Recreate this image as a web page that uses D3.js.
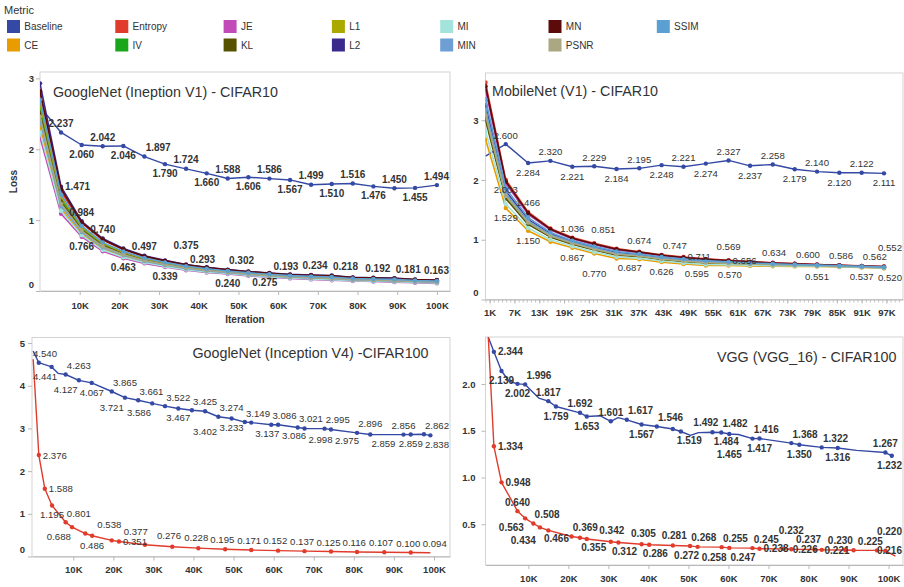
<!DOCTYPE html>
<html>
<head>
<meta charset="utf-8">
<script src="https://cdn.jsdelivr.net/npm/d3@7"></script>
<style>
  body { margin: 0; background: #fff; }
</style>
</head>
<body>
<script>
'use strict';

// ---- legend / metrics ----
const metrics = ["Baseline", "CE", "Entropy", "IV", "JE", "KL", "L1", "L2", "MI", "MIN", "MN", "PSNR", "SSIM"];

// ---- GoogleNet (Inception V1) - CIFAR10 ----
const g1XTicks = [10000, 20000, 30000, 40000, 50000, 60000, 70000, 80000, 90000, 100000];
const g1YTicks = [0, 1, 2, 3];
const g1Iter = [0, 5300, 10500, 15800, 21000, 26300, 31500, 36800, 42000, 47300, 52500, 57800, 63000, 68300, 73500, 78800, 84000, 89300, 94500, 100000];
const g1Baseline = [2.60, 2.237, 2.060, 2.042, 2.046, 1.897, 1.790, 1.724, 1.660, 1.588, 1.606, 1.586, 1.567, 1.499, 1.510, 1.516, 1.476, 1.450, 1.455, 1.494];
const g1L2 = [2.93, 1.471, 0.984, 0.740, 0.600, 0.497, 0.432, 0.375, 0.336, 0.302, 0.275, 0.255, 0.234, 0.226, 0.218, 0.192, 0.186, 0.181, 0.163, 0.155];
const g1MN = [2.82, 1.440, 0.968, 0.727, 0.590, 0.489, 0.425, 0.369, 0.331, 0.298, 0.271, 0.251, 0.230, 0.222, 0.213, 0.189, 0.183, 0.177, 0.160, 0.152];
const g1Entropy = [2.78, 1.400, 0.958, 0.718, 0.584, 0.484, 0.421, 0.366, 0.327, 0.295, 0.268, 0.248, 0.227, 0.219, 0.210, 0.186, 0.180, 0.174, 0.157, 0.149];
const g1SSIM = [2.70, 1.360, 0.919, 0.686, 0.559, 0.465, 0.404, 0.351, 0.314, 0.283, 0.257, 0.236, 0.217, 0.207, 0.198, 0.177, 0.170, 0.164, 0.149, 0.141];
const g1L1 = [2.64, 1.330, 0.901, 0.672, 0.548, 0.456, 0.397, 0.344, 0.308, 0.278, 0.252, 0.231, 0.213, 0.202, 0.193, 0.173, 0.166, 0.160, 0.146, 0.137];
const g1IV = [2.58, 1.300, 0.886, 0.659, 0.538, 0.449, 0.390, 0.338, 0.303, 0.274, 0.248, 0.227, 0.209, 0.198, 0.188, 0.170, 0.162, 0.156, 0.142, 0.134];
const g1KL = [2.51, 1.260, 0.864, 0.641, 0.525, 0.438, 0.381, 0.330, 0.295, 0.268, 0.241, 0.221, 0.203, 0.192, 0.182, 0.165, 0.157, 0.150, 0.138, 0.129];
const g1PSNR = [2.46, 1.230, 0.849, 0.628, 0.515, 0.431, 0.374, 0.324, 0.290, 0.264, 0.237, 0.217, 0.199, 0.188, 0.177, 0.161, 0.153, 0.146, 0.134, 0.126];
const g1MIN = [2.40, 1.200, 0.831, 0.614, 0.504, 0.422, 0.367, 0.318, 0.284, 0.259, 0.232, 0.212, 0.195, 0.183, 0.172, 0.157, 0.149, 0.142, 0.131, 0.122];
const g1CE = [2.31, 1.160, 0.805, 0.592, 0.488, 0.409, 0.356, 0.308, 0.275, 0.251, 0.225, 0.204, 0.188, 0.175, 0.164, 0.151, 0.143, 0.135, 0.125, 0.116];
const g1MI = [2.24, 1.130, 0.788, 0.578, 0.477, 0.401, 0.348, 0.301, 0.269, 0.246, 0.220, 0.199, 0.184, 0.170, 0.159, 0.147, 0.138, 0.131, 0.122, 0.113];
const g1JE = [2.17, 1.090, 0.766, 0.560, 0.463, 0.390, 0.339, 0.293, 0.262, 0.240, 0.214, 0.193, 0.178, 0.164, 0.152, 0.142, 0.133, 0.125, 0.117, 0.108];
const g1BaselineLabelIdx = [1, 2, 3, 4, 5, 6, 7, 8, 9, 10, 11, 12, 13, 14, 15, 16, 17, 18, 19];
const g1L2LabelIdx = [1, 2, 3, 5, 7, 9, 10, 12, 14, 15, 17, 18];
const g1JELabelIdx = [2, 4, 6, 7, 9, 11];

// ---- MobileNet (V1) - CIFAR10 ----
const mXTicks = [1000, 7000, 13000, 19000, 25000, 31000, 37000, 43000, 49000, 55000, 61000, 67000, 73000, 79000, 85000, 91000, 97000];
const mYTicks = [0, 1, 2, 3];
const mIter = [0, 4900, 10300, 15700, 21000, 26300, 31700, 37200, 42600, 47900, 53300, 58800, 64000, 69500, 74800, 80200, 85600, 91000, 96400];
const mBaseline = [2.40, 2.600, 2.284, 2.320, 2.221, 2.229, 2.184, 2.195, 2.248, 2.221, 2.274, 2.327, 2.237, 2.258, 2.179, 2.140, 2.120, 2.122, 2.111];
const mEntropy = [3.63, 2.003, 1.466, 1.190, 1.036, 0.940, 0.851, 0.800, 0.747, 0.711, 0.680, 0.656, 0.634, 0.615, 0.600, 0.586, 0.574, 0.562, 0.552];
const mMN = [3.57, 1.975, 1.447, 1.177, 1.026, 0.930, 0.841, 0.792, 0.740, 0.704, 0.673, 0.651, 0.630, 0.612, 0.597, 0.584, 0.572, 0.560, 0.550];
const mJE = [3.51, 1.941, 1.425, 1.161, 1.014, 0.918, 0.830, 0.784, 0.731, 0.696, 0.666, 0.645, 0.625, 0.607, 0.594, 0.581, 0.570, 0.559, 0.548];
const mSSIM = [3.35, 1.861, 1.371, 1.123, 0.985, 0.889, 0.802, 0.762, 0.711, 0.676, 0.647, 0.630, 0.612, 0.598, 0.586, 0.575, 0.565, 0.554, 0.542];
const mL2 = [3.25, 1.813, 1.340, 1.101, 0.968, 0.872, 0.785, 0.750, 0.699, 0.665, 0.636, 0.621, 0.605, 0.592, 0.582, 0.572, 0.562, 0.552, 0.539];
const mMIN = [3.18, 1.780, 1.317, 1.085, 0.957, 0.860, 0.774, 0.741, 0.690, 0.656, 0.628, 0.615, 0.600, 0.588, 0.578, 0.570, 0.560, 0.550, 0.537];
const mL1 = [3.14, 1.757, 1.302, 1.074, 0.948, 0.852, 0.766, 0.734, 0.684, 0.651, 0.623, 0.611, 0.597, 0.585, 0.576, 0.568, 0.558, 0.549, 0.535];
const mPSNR = [3.09, 1.733, 1.286, 1.063, 0.940, 0.843, 0.758, 0.728, 0.678, 0.645, 0.617, 0.606, 0.593, 0.582, 0.574, 0.566, 0.557, 0.548, 0.534];
const mIV = [3.06, 1.719, 1.276, 1.056, 0.935, 0.838, 0.753, 0.724, 0.674, 0.641, 0.614, 0.604, 0.591, 0.580, 0.572, 0.565, 0.556, 0.547, 0.533];
const mKL = [3.00, 1.690, 1.257, 1.043, 0.924, 0.828, 0.743, 0.717, 0.667, 0.634, 0.607, 0.599, 0.586, 0.577, 0.570, 0.563, 0.554, 0.545, 0.531];
const mMI = [2.82, 1.600, 1.197, 1.000, 0.892, 0.795, 0.712, 0.693, 0.644, 0.612, 0.586, 0.582, 0.573, 0.566, 0.561, 0.556, 0.548, 0.541, 0.525];
const mCE = [2.68, 1.529, 1.150, 0.967, 0.867, 0.770, 0.687, 0.674, 0.626, 0.595, 0.570, 0.569, 0.562, 0.557, 0.554, 0.551, 0.544, 0.537, 0.520];
const mBaselineLabelIdx = [1, 2, 3, 4, 5, 6, 7, 8, 9, 10, 11, 12, 13, 14, 15, 16, 17, 18];
const mEntropyLabelIdx = [1, 2, 4, 6, 8, 9, 11, 12, 14, 15, 17, 18];
const mCELabelIdx = [1, 2, 4, 5, 6, 7, 8, 9, 10, 11, 15, 17, 18];

// ---- GoogleNet (Inception V4) - CIFAR100 ----
const g4XTicks = [10000, 20000, 30000, 40000, 50000, 60000, 70000, 80000, 90000, 100000];
const g4YTicks = [0, 1, 2, 3, 4, 5];
const g4BaselineIter = [0, 1400, 4600, 6200, 8100, 11400, 14600, 19600, 22900, 26200, 29700, 32900, 36200, 39600, 42900, 46200, 49500, 52800, 54400, 59400, 61100, 66000, 67700, 72700, 74300, 80800, 84100, 92400, 94200, 97500, 99100];
const g4Baseline = [4.81, 4.540, 4.441, 4.290, 4.263, 4.127, 4.067, 3.865, 3.721, 3.661, 3.586, 3.522, 3.467, 3.425, 3.402, 3.274, 3.233, 3.149, 3.137, 3.086, 3.086, 3.021, 2.998, 2.995, 2.975, 2.896, 2.859, 2.856, 2.859, 2.862, 2.838];
const g4BaselineBare = [0, 3];
const g4EntropyIter = [0, 1400, 2900, 4700, 8100, 9700, 13000, 14700, 19600, 21400, 27900, 34700, 41200, 47900, 54400, 61100, 67700, 74300, 80800, 87600, 94200, 99100];
const g4Entropy = [4.62, 2.376, 1.588, 1.195, 0.801, 0.688, 0.538, 0.486, 0.377, 0.351, 0.276, 0.228, 0.195, 0.171, 0.152, 0.137, 0.125, 0.116, 0.107, 0.100, 0.094, 0.088];
const g4EntropyBare = [0, 21];

// ---- VGG (VGG_16) - CIFAR100 ----
const vggXTicks = [10000, 20000, 30000, 40000, 50000, 60000, 70000, 80000, 90000, 100000];
const vggYTicks = [0.5, 1.0, 1.5, 2.0];
const vggBaselineIter = [0, 1400, 3300, 5200, 7300, 9200, 12600, 15000, 16900, 22900, 24600, 28000, 30600, 32400, 34600, 38300, 42100, 46100, 48100, 50500, 52500, 56000, 58200, 60200, 62500, 66000, 67750, 75700, 77700, 83300, 87300, 92000, 99200, 100800];
const vggBaseline = [2.50, 2.344, 2.139, 2.030, 2.002, 1.996, 1.850, 1.817, 1.759, 1.692, 1.653, 1.660, 1.601, 1.640, 1.617, 1.567, 1.546, 1.519, 1.492, 1.450, 1.480, 1.484, 1.482, 1.465, 1.460, 1.416, 1.417, 1.368, 1.350, 1.322, 1.316, 1.290, 1.267, 1.232];
const vggBaselineBare = [0, 3, 6, 11, 13, 19, 20, 24, 31];
const vggEntropyIter = [0, 1400, 3300, 7300, 9200, 11250, 12900, 15000, 20800, 22900, 24600, 30600, 32500, 38300, 40200, 44100, 46100, 50400, 52300, 58300, 60200, 66000, 67750, 73750, 75700, 81700, 83300, 89200, 91250, 97100, 99200, 101700];
const vggEntropy = [2.50, 1.334, 0.948, 0.640, 0.563, 0.508, 0.466, 0.434, 0.369, 0.355, 0.342, 0.312, 0.305, 0.286, 0.281, 0.275, 0.272, 0.268, 0.258, 0.255, 0.247, 0.245, 0.238, 0.237, 0.232, 0.230, 0.226, 0.225, 0.221, 0.220, 0.216, 0.160];
const vggEntropyBare = [0, 15, 31];

const FONT = "'Liberation Sans', Arial, sans-serif";
const W = 904, H = 587;

const color = d3.scaleOrdinal()
    .domain(metrics)
    .range(["#3449a4", "#e89c00", "#e03b2b", "#1aa61a", "#c24bb8", "#575200", "#aba800",
            "#3b2a8c", "#a2e3dc", "#6d9fd4", "#5c0b0b", "#aaa882", "#5ba0d2"]);

const svg = d3.select("body").append("svg")
    .attr("width", W)
    .attr("height", H)
    .attr("font-family", FONT);

// legend, two rows filled column by column
const legend = svg.append("g");
legend.append("text")
    .attr("x", 4).attr("y", 14)
    .attr("font-size", 11).attr("fill", "#333")
    .text("Metric");
metrics.forEach((m, i) => {
    const col = Math.floor(i / 2), row = i % 2;
    const lx = 7 + col * 108.3, cy = row === 0 ? 26.5 : 45;
    legend.append("rect")
        .attr("x", lx).attr("y", cy - 6.5)
        .attr("width", 13).attr("height", 13)
        .attr("fill", color(m));
    legend.append("text")
        .attr("x", lx + 17.3).attr("y", cy + 3.6)
        .attr("font-size", 10).attr("fill", "#333")
        .text(m);
});

function seriesOf(metric, iters, values, opts){
    return Object.assign({ metric, iters, values, bare: [], labelIdx: null, pref: "alt", width: 1.6 }, opts || {});
}

const g1Cluster = { CE: g1CE, Entropy: g1Entropy, IV: g1IV, JE: g1JE, KL: g1KL, L1: g1L1, L2: g1L2,
                    MI: g1MI, MIN: g1MIN, MN: g1MN, PSNR: g1PSNR, SSIM: g1SSIM };
const mCluster = { CE: mCE, Entropy: mEntropy, IV: mIV, JE: mJE, KL: mKL, L1: mL1, L2: mL2,
                   MI: mMI, MIN: mMIN, MN: mMN, PSNR: mPSNR, SSIM: mSSIM };
const g1LabelIdx = { L2: g1L2LabelIdx, JE: g1JELabelIdx };
const g1Pref = { L2: "above", JE: "below" };
const mLabelIdx = { Entropy: mEntropyLabelIdx, CE: mCELabelIdx };
const mPref = { Entropy: "above", CE: "below" };

const panels = [
    {
        id: "p1", left: 40, right: 450, top: 72, bottom: 291,
        xDomain: [0, 103300], yDomain: [0, 3.09],
        xTicks: g1XTicks, yTicks: g1YTicks, yFormat: d3.format("d"),
        xPad: 7.5, yPad: 2,
        title: "GoogleNet (Ineption V1) - CIFAR10", titleX: 53, titleY: 96.8, titleAnchor: "start",
        labelBold: true,
        series: [seriesOf("Baseline", g1Iter, g1Baseline, { bare: [0], labelIdx: g1BaselineLabelIdx, width: 1.4 })]
            .concat(Object.keys(g1Cluster).map(m => seriesOf(m, g1Iter, g1Cluster[m],
                { labelIdx: g1LabelIdx[m] || null, pref: g1Pref[m] || "alt" })))
    },
    {
        id: "p2", left: 485.5, right: 903, top: 73, bottom: 299.5,
        xDomain: [0, 101000], yDomain: [0, 3.79],
        xTicks: mXTicks, yTicks: mYTicks, yFormat: d3.format("d"),
        minorTicks: d3.range(0, 101000, 1000),
        xPad: 6, yPad: 3,
        title: "MobileNet (V1) - CIFAR10", titleX: 492, titleY: 95.8, titleAnchor: "start",
        labelBold: false,
        series: [seriesOf("Baseline", mIter, mBaseline, { bare: [0], labelIdx: mBaselineLabelIdx, width: 1.4 })]
            .concat(Object.keys(mCluster).map(m => seriesOf(m, mIter, mCluster[m],
                { labelIdx: mLabelIdx[m] || null, pref: mPref[m] || "alt" })))
    },
    {
        id: "p3", left: 32, right: 450, top: 337.5, bottom: 556.5,
        xDomain: [-300, 104000], yDomain: [0, 5.13],
        xTicks: g4XTicks, yTicks: g4YTicks, yFormat: d3.format("d"),
        xPad: 5.4, yPad: 3,
        title: "GoogleNet (Inception V4) -CIFAR100", titleX: 428.5, titleY: 357.8, titleAnchor: "end",
        labelBold: false,
        series: [
            seriesOf("Baseline", g4BaselineIter, g4Baseline, { bare: g4BaselineBare, labelIdx: "auto", width: 1.4 }),
            seriesOf("Entropy", g4EntropyIter, g4Entropy, { bare: g4EntropyBare, labelIdx: "auto", width: 1.4 })
        ]
    },
    {
        id: "p4", left: 485.5, right: 903, top: 337, bottom: 565,
        xDomain: [-700, 103600], yDomain: [0.064, 2.503],
        xTicks: vggXTicks, yTicks: vggYTicks, yFormat: d3.format(".1f"),
        xPad: 6, yPad: 6,
        title: "VGG (VGG_16) - CIFAR100", titleX: 896.5, titleY: 361.8, titleAnchor: "end",
        labelBold: true,
        series: [
            seriesOf("Baseline", vggBaselineIter, vggBaseline, { bare: vggBaselineBare, labelIdx: "auto", width: 1.4 }),
            seriesOf("Entropy", vggEntropyIter, vggEntropy, { bare: vggEntropyBare, labelIdx: "auto", width: 1.4 })
        ]
    }
];

function styleAxis(sel){
    sel.attr("font-family", FONT).attr("font-size", 9.5).attr("font-weight", "bold");
    sel.select(".domain").attr("stroke", "#b8b8b8");
    sel.selectAll(".tick line").attr("stroke", "#b8b8b8");
    sel.selectAll(".tick text").attr("fill", "#333");
}

function overlapArea(a, b){
    const w = Math.min(a.x1, b.x1) - Math.max(a.x0, b.x0);
    const h = Math.min(a.y1, b.y1) - Math.max(a.y0, b.y0);
    return (w > 0 && h > 0) ? w * h : 0;
}

function drawPanel(p){
    const x = d3.scaleLinear().domain(p.xDomain).range([p.left, p.right]);
    const y = d3.scaleLinear().domain(p.yDomain).range([p.bottom, p.top]);
    const g = svg.append("g");

    svg.append("clipPath").attr("id", "clip-" + p.id)
        .append("rect")
            .attr("x", p.left).attr("y", p.top)
            .attr("width", p.right - p.left).attr("height", p.bottom - p.top);

    g.append("rect")
        .attr("x", p.left).attr("y", p.top)
        .attr("width", p.right - p.left).attr("height", p.bottom - p.top)
        .attr("fill", "#fff").attr("stroke", "#d3d3d3");

    if(p.minorTicks){
        g.append("g")
            .attr("transform", "translate(0," + p.bottom + ")")
            .call(d3.axisBottom(x).tickValues(p.minorTicks).tickSize(3).tickFormat(""))
            .call(a => a.select(".domain").remove())
            .selectAll("line").attr("stroke", "#c4c4c4");
    }

    const xa = g.append("g")
        .attr("transform", "translate(0," + p.bottom + ")")
        .call(d3.axisBottom(x).tickValues(p.xTicks).tickFormat(d => d / 1000 + "K")
            .tickSize(4).tickSizeOuter(0).tickPadding(p.xPad));
    styleAxis(xa);

    const ya = g.append("g")
        .attr("transform", "translate(" + p.left + ",0)")
        .call(d3.axisLeft(y).tickValues(p.yTicks).tickFormat(p.yFormat)
            .tickSize(4).tickSizeOuter(0).tickPadding(p.yPad));
    styleAxis(ya);
    ya.select(".domain").remove();
    // bottom tick label sits above the axis line, like the original
    ya.selectAll(".tick text").attr("y", d => (y(d) > p.bottom - 7 ? -7 : 0));

    const title = g.append("text")
        .attr("x", p.titleX).attr("y", p.titleY)
        .attr("text-anchor", p.titleAnchor)
        .attr("font-size", 14.3).attr("fill", "#333")
        .text(p.title);

    const plot = g.append("g").attr("clip-path", "url(#clip-" + p.id + ")");
    const line = d3.line()
        .x(d => x(d[0]))
        .y(d => y(d[1]));

    p.series.forEach(s => {
        const pts = s.iters.map((it, i) => [it, s.values[i], i]);
        plot.append("path")
            .datum(pts)
            .attr("d", line)
            .attr("fill", "none")
            .attr("stroke", color(s.metric))
            .attr("stroke-width", s.width)
            .attr("stroke-linejoin", "round");
        plot.selectAll(null)
            .data(pts.filter(d => s.bare.indexOf(d[2]) < 0))
            .join("circle")
                .attr("cx", d => x(d[0]))
                .attr("cy", d => y(d[1]))
                .attr("r", 2.2)
                .attr("fill", color(s.metric));
    });

    // ---- value labels: each one takes the candidate spot with the least overlap ----
    const tb = title.node().getBBox();
    const textBoxes = [{ x0: tb.x, x1: tb.x + tb.width, y0: tb.y, y1: tb.y + tb.height }];
    const markBoxes = [];
    const labelled = p.series.filter(s => s.labelIdx);
    labelled.forEach(s => {
        s.iters.forEach((it, i) => {
            if(s.bare.indexOf(i) >= 0) return;
            const px = x(it), py = y(s.values[i]);
            markBoxes.push({ x0: px - 2, x1: px + 2, y0: py - 2, y1: py + 2 });
        });
    });

    const labels = g.append("g");
    const fs = p.labelBold ? 10 : 9.6;
    const halfH = 6;
    labelled.forEach(s => {
        const idx = s.labelIdx === "auto"
            ? d3.range(s.iters.length).filter(i => s.bare.indexOf(i) < 0)
            : s.labelIdx;
        let last = "below";
        idx.forEach(i => {
            const px = x(s.iters[i]), py = y(s.values[i]);
            const t = labels.append("text")
                .attr("font-size", fs)
                .attr("font-weight", p.labelBold ? "bold" : "normal")
                .attr("fill", "#333")
                .attr("text-anchor", "middle")
                .text(d3.format(".3f")(s.values[i]));
            const w = t.node().getComputedTextLength();

            const i0 = Math.max(0, i - 1), i1 = Math.min(s.iters.length - 1, i + 1);
            const dx = Math.abs(x(s.iters[i1]) - x(s.iters[i0]));
            const dy = Math.abs(y(s.values[i1]) - y(s.values[i0]));
            const steep = dy > 2.2 * dx;

            const pref = s.pref === "alt" ? (last === "above" ? "below" : "above") : s.pref;
            const other = pref === "above" ? "below" : "above";
            const vy = side => (side === "above" ? py - 9 : py + 9.5);
            const far = side => (side === "above" ? py - 19 : py + 20);
            const shift = w * 0.55;
            let order = [
                { side: pref, cx: px, cy: vy(pref) },
                { side: other, cx: px, cy: vy(other) },
                { side: pref, cx: px + shift, cy: vy(pref) },
                { side: other, cx: px + shift, cy: vy(other) },
                { side: pref, cx: px - shift, cy: vy(pref) },
                { side: other, cx: px - shift, cy: vy(other) },
                { side: "right", cx: px + w / 2 + 4, cy: py },
                { side: "left", cx: px - w / 2 - 4, cy: py },
                { side: "right", cx: px + w / 2 + 4, cy: py - 11 },
                { side: "right", cx: px + w / 2 + 4, cy: py + 11 },
                { side: pref, cx: px + w, cy: vy(pref) },
                { side: other, cx: px + w, cy: vy(other) },
                { side: pref, cx: px - w, cy: vy(pref) },
                { side: other, cx: px - w, cy: vy(other) },
                { side: "left", cx: px - w / 2 - 4, cy: py - 11 },
                { side: "left", cx: px - w / 2 - 4, cy: py + 11 },
                { side: pref, cx: px, cy: far(pref) },
                { side: other, cx: px, cy: far(other) },
                { side: pref, cx: px + shift, cy: far(pref) },
                { side: other, cx: px + shift, cy: far(other) },
                { side: pref, cx: px - shift, cy: far(pref) },
                { side: other, cx: px - shift, cy: far(other) },
                { side: pref, cx: px - w, cy: far(pref) },
                { side: other, cx: px - w, cy: far(other) }
            ];
            if(steep) order = [{ side: "right", cx: px + w / 2 + 4, cy: py }].concat(order);

            let best = null, bestScore = Infinity;
            order.forEach((c, k) => {
                const cx = Math.max(p.left + w / 2 + 1, Math.min(p.right - w / 2 - 1, c.cx));
                const b = { cx: cx, cy: c.cy, side: c.side,
                            x0: cx - w / 2 - 1, x1: cx + w / 2 + 1, y0: c.cy - halfH, y1: c.cy + halfH };
                if(b.y0 < p.top + 1 || b.y1 > p.bottom - 1) return;
                let score = k * 0.5;
                textBoxes.forEach(o => { score += overlapArea(o, b) * 20; });
                markBoxes.forEach(o => { score += overlapArea(o, b) * 2; });
                if(score < bestScore){ bestScore = score; best = b; }
            });
            textBoxes.push(best);
            last = (best.side === "above" || best.side === "below") ? best.side : pref;
            t.attr("x", best.cx).attr("y", best.cy + fs * 0.36);
        });
    });
}

panels.forEach(drawPanel);

// axis titles (only the first panel carries them)
svg.append("text")
    .attr("transform", "translate(13.5,181.5) rotate(-90)")
    .attr("text-anchor", "middle")
    .attr("dy", "0.35em")
    .attr("font-size", 10).attr("font-weight", "bold").attr("fill", "#333")
    .text("Loss");
svg.append("text")
    .attr("x", 245).attr("y", 323)
    .attr("text-anchor", "middle")
    .attr("font-size", 10).attr("font-weight", "bold").attr("fill", "#333")
    .text("Iteration");
</script>
</body>
</html>
